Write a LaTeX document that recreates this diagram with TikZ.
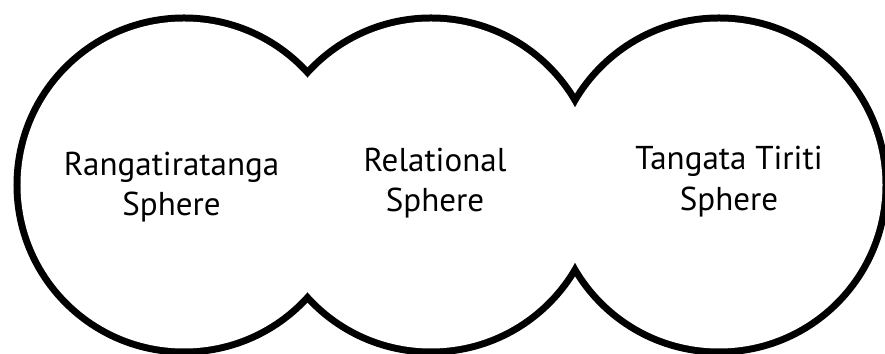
\documentclass[tikz,border=0pt]{standalone}
\usepackage{fontspec}
\setmainfont{PT Sans}
\begin{document}
\begin{tikzpicture}[rim/.style={line width=0.28cm}, blank/.style={fill=white},
	spheretext/.style={align=center, font=\fontsize{18.8}{23}\selectfont}]
	\useasboundingbox (0, 0) rectangle (17.7, 7.08);

	% outer half of a double-width stroke survives the white fill
	\foreach \cx in {3.68, 8.62, 14.38}
		\draw[rim] (\cx, 3.38) circle [radius=3.27];
	\foreach \cx in {3.68, 8.62, 14.38}
		\fill[blank] (\cx, 3.38) circle [radius=3.27];

	\node[spheretext] (ranga) at (3.43, 3.34) {Rangatiratanga\\Sphere};
	\node[spheretext] (relational) at (8.70, 3.42) {Relational\\Sphere};
	\node[spheretext] (tangata) at (14.58, 3.45) {Tangata Tiriti\\Sphere};
\end{tikzpicture}
\end{document}
